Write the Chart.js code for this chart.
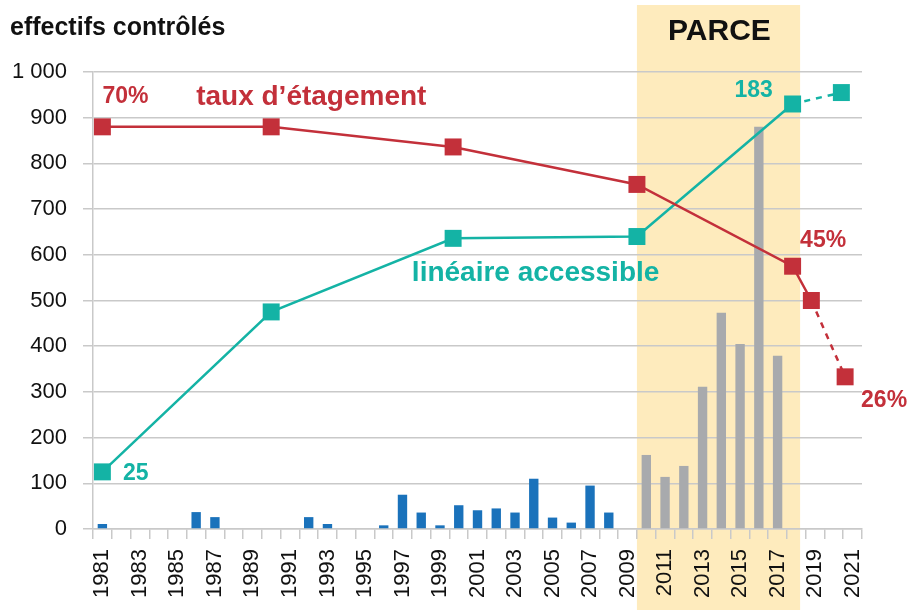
<!DOCTYPE html>
<html>
<head>
<meta charset="utf-8">
<script src="https://cdn.jsdelivr.net/npm/chart.js@4"></script>
<style>
  body { margin: 0; background: #fff; }
  #wrap { width: 912px; height: 610px; position: relative; }
</style>
</head>
<body>
<div id="wrap"><canvas id="chart"></canvas></div>
<script>
// years on the category axis
const years = [];
for (let y = 1981; y <= 2021; y++) years.push(String(y));

// effectifs contrôlés (bars), null = no value
const effectifs = [
  11, null, null, null, null, 37, 26, null, null, null,   // 1981-1990
  null, 26, 11, null, null, 8, 75, 36, 8, 52,             // 1991-2000
  41, 45, 36, 110, 25, 14, 95, 36, null,                  // 2001-2009
  162, 114, 138, 311, 473, 405, 880, 379,                 // 2010-2017 (PARCE)
  null, null, null, null                                  // 2018-2021
];
const parceStart = 2010;

// taux d'étagement (red line)
const tauxX = [1981, 1990, 1999.7, 2009.5, 2017.8, 2018.8, 2020.6];
const tauxY = [880, 880, 836, 754, 575, 500, 333];

// linéaire accessible (teal line)
const linX = [1981, 1990, 1999.7, 2009.5, 2017.8, 2020.4];
const linY = [125, 475, 636, 640, 930, 955];

const yTicks = [0, 100, 200, 300, 400, 500, 600, 700, 800, 900, 1000];

const RED = '#c3303a';
const TEAL = '#14b3a5';
const BLUE = '#1a72bb';
const GRAY = '#a8aaad';
const BAND = '#feebbd';
const GRID = '#c9c9c9';
const FONT = '"Liberation Sans", Arial, Helvetica, sans-serif';

// only the last segment of a line is dashed
const lastDashed = n => ({
  borderDash: ctx => ctx.p1DataIndex === n - 1 ? [6, 6] : undefined
});

// yellow PARCE band + texts
const decor = {
  id: 'decor',
  beforeDraw(chart) {
    const c = chart.ctx, xl = chart.scales.xl;
    const x0 = xl.getPixelForValue(2009.5), x1 = xl.getPixelForValue(2018.2);
    c.save();
    c.fillStyle = BAND;
    c.fillRect(x0, 5, x1 - x0, chart.height - 5);
    c.restore();
  },
  afterDraw(chart) {
    const c = chart.ctx, xl = chart.scales.xl, y = chart.scales.y;
    const txt = (s, xv, yv, color, size, align) => {
      c.fillStyle = color;
      c.font = 'bold ' + size + 'px ' + FONT;
      c.textAlign = align || 'left';
      c.textBaseline = 'middle';
      c.fillText(s, xl.getPixelForValue(xv), y.getPixelForValue(yv));
    };
    c.save();
    c.fillStyle = '#111';
    c.font = 'bold 25px ' + FONT;
    c.textBaseline = 'middle';
    c.fillText('effectifs contrôlés', 10, 28);
    txt('PARCE', 2013.9, 1088, '#111', 30, 'center');
    txt('70%', 1981, 945, RED, 23);
    txt('taux d\u2019étagement', 1986, 945, RED, 28);
    txt('45%', 2018.2, 632, RED, 23);
    txt('26%', 2021.45, 280, RED, 23);
    txt('183', 2014.7, 960, TEAL, 23);
    txt('25', 1982.1, 122, TEAL, 23);
    txt('linéaire accessible', 1997.5, 560, TEAL, 28);
    c.restore();
  }
};

new Chart(document.getElementById('chart'), {
  type: 'bar',
  data: {
    labels: years,
    datasets: [
      {
        type: 'line',
        data: tauxX.map((x, i) => ({ x, y: tauxY[i] })),
        xAxisID: 'xl',
        borderColor: RED,
        backgroundColor: RED,
        borderWidth: 2.5,
        pointStyle: 'rect',
        pointRadius: 12,
        pointBorderWidth: 0,
        segment: lastDashed(tauxX.length),
        order: 0
      },
      {
        type: 'line',
        data: linX.map((x, i) => ({ x, y: linY[i] })),
        xAxisID: 'xl',
        borderColor: TEAL,
        backgroundColor: TEAL,
        borderWidth: 2.5,
        pointStyle: 'rect',
        pointRadius: 12,
        pointBorderWidth: 0,
        segment: lastDashed(linX.length),
        order: 0
      },
      {
        data: effectifs,
        backgroundColor: ctx => Number(years[ctx.dataIndex]) >= parceStart ? GRAY : BLUE,
        barPercentage: 0.5,
        categoryPercentage: 1,
        grouped: false,
        order: 1
      }
    ]
  },
  options: {
    responsive: true,
    maintainAspectRatio: false,
    animation: false,
    layout: { padding: { top: 72, right: 50, left: 0, bottom: 0 } },
    plugins: { legend: { display: false }, tooltip: { enabled: false } },
    scales: {
      x: {
        type: 'category',
        offset: true,
        grid: { offset: true, drawOnChartArea: false, drawTicks: true, tickLength: 10, color: GRID, lineWidth: 1.5 },
        border: { display: true, color: GRID, width: 1.5 },
        ticks: {
          autoSkip: false,
          minRotation: 90,
          maxRotation: 90,
          padding: 10,
          color: '#111',
          font: { family: FONT, size: 22 },
          callback: function (v, i) { return i % 2 === 0 ? this.getLabelForValue(v) : ''; }
        },
        afterFit: s => { s.height = 81; }
      },
      xl: {
        type: 'linear',
        display: false,
        offset: false,
        grid: { offset: false },
        min: 1980.5,
        max: 2021.5
      },
      y: {
        min: 0,
        max: 1000,
        afterBuildTicks: s => { s.ticks = yTicks.map(v => ({ value: v })); },
        grid: { color: GRID, lineWidth: 1.5, tickLength: 10 },
        border: { display: true, color: GRID, width: 1.5 },
        ticks: {
          padding: 16,
          color: '#111',
          font: { family: FONT, size: 22 },
          callback: v => v >= 1000 ? '1 000' : String(v)
        },
        afterFit: s => { s.width = 93; }
      }
    }
  },
  plugins: [decor]
});
</script>
</body>
</html>
